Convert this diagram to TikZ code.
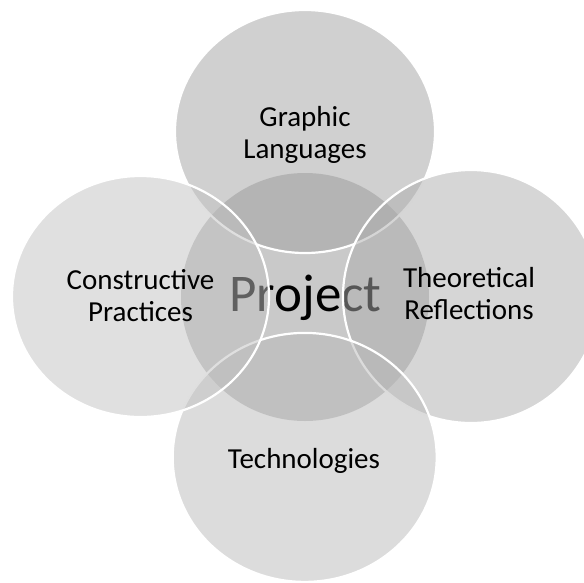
\documentclass[tikz,border=0pt]{standalone}
\usepackage{fontspec}
\setmainfont{Carlito}
\usetikzlibrary{shapes.geometric}
\definecolor{centerfill}{gray}{0.788}
\definecolor{topfill}{gray}{0.631}
\definecolor{rightfill}{gray}{0.678}
\definecolor{bottomfill}{gray}{0.725}
\definecolor{leftfill}{gray}{0.757}
\begin{document}
\begin{tikzpicture}[x=1pt,y=-1pt,
  blob/.style={ellipse, draw=white, line width=2.2pt, fill opacity=0.5, inner sep=0pt, outer sep=0pt},
  core/.style={circle, inner sep=0pt, fill=centerfill, minimum size=248pt},
  lbl/.style={align=center, font=\fontsize{29}{32}\selectfont, text=black, inner sep=0pt}]
\useasboundingbox (0,0) rectangle (584,582);
\clip (0,0) rectangle (584,582);
\node[core] (core) at (305,297) {};
\node[anchor=base, font=\fontsize{53}{60}\selectfont, inner sep=0pt] (proj) at (305.5,311.7) {Project};
\node[blob, fill=topfill, minimum width=260pt, minimum height=243pt] (top) at (305,131.5) {};
\node[blob, fill=rightfill, minimum width=256pt, minimum height=253pt] (right) at (471,296.5) {};
\node[blob, fill=bottomfill, minimum width=264pt, minimum height=249pt] (bottom) at (304.7,457.4) {};
\node[blob, fill=leftfill, minimum width=257pt, minimum height=241pt] (left) at (140.5,296.5) {};
\node[lbl] (tgl) at (305,134.9) {Graphic\\Languages};
\node[lbl] (tcp) at (140.5,295.3) {Constructive\\Practices};
\node[lbl] (ttr) at (469,293.9) {Theoretical\\Reflections};
\node[lbl, anchor=base] (tte) at (304,468) {Technologies};
\end{tikzpicture}
\end{document}
